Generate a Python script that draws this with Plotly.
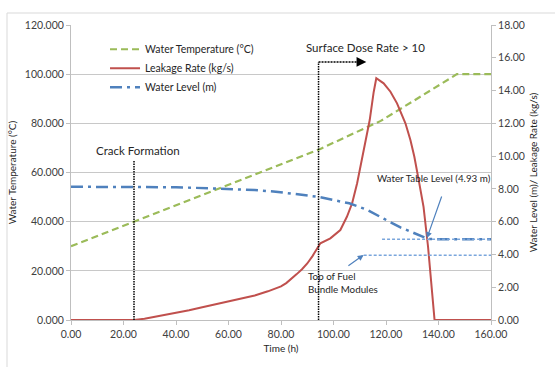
import plotly.graph_objects as go

# Water temperature (left axis, °C)
temp_t = [0, 24, 60, 95, 105, 118, 130, 140, 147, 160]
temp_v = [30, 40, 55, 69.6, 74.6, 81, 88.8, 95.3, 100, 100]

# Leakage rate (right axis, kg/s)
leak_t = [0, 24, 28, 32, 36, 40, 45, 50, 55, 60, 65, 70, 75, 78, 80, 82, 84, 86, 88, 90, 92, 94.3,
          95, 98.8, 102.6, 105.1, 107.1, 109, 110.2, 111.5, 112.1, 113.8, 115.3, 116.3,
          119.1, 121.7, 124.2, 125.7, 127.4, 129.3, 130.8, 132.5, 134.3, 136, 137.3, 138.5, 160]
leak_v = [0, 0, 0.08, 0.2, 0.3, 0.43, 0.6, 0.78, 0.95, 1.12, 1.3, 1.5, 1.75, 1.93, 2.05, 2.25, 2.5,
          2.8, 3.1, 3.45, 3.9, 4.47,
          4.68, 4.98, 5.49, 6.3, 7.12, 8.34, 9.35, 10.37, 10.9, 12.2, 13.9, 14.75,
          14.44, 13.93, 13.22, 12.7, 12.0, 10.98, 9.96, 8.5, 6.9, 4.5, 2.2, 0, 0]

# Water level (right axis, m)
lvl_t = [0, 20, 40, 54, 70, 78, 94, 106, 113, 119.5, 125.5, 130, 136, 140, 160]
lvl_v = [8.13, 8.13, 8.1, 8.03, 7.93, 7.83, 7.52, 7.12, 6.71, 6.15, 5.65, 5.35, 4.95, 4.93, 4.93]

x_ticks = [0, 20, 40, 60, 80, 100, 120, 140, 160]
water_table_level = 4.93
fuel_top_level = 3.95
crack_time = 24
dose_time = 94.3

FONT = "Lato"
TXT = "#404040"
DARK = "#262626"

fig = go.Figure()
fig.add_trace(go.Scatter(x=temp_t, y=temp_v, mode="lines", name="Water Temperature (°C)",
                         line=dict(color="#9bbb59", width=2.2, dash="7px,4px")))
fig.add_trace(go.Scatter(x=leak_t, y=leak_v, mode="lines", name="Leakage Rate (kg/s)", yaxis="y2",
                         line=dict(color="#c0504d", width=2)))
fig.add_trace(go.Scatter(x=lvl_t, y=lvl_v, mode="lines", name="Water Level (m)", yaxis="y2",
                         line=dict(color="#4f81bd", width=2.5, dash="12px,5px,3px,5px")))


def px_x(p):
    return (p - 71) / 420


def px_y(p):
    return (320 - p) / 295


shapes = [
    # outer chart border
    dict(type="rect", xref="paper", yref="paper", x0=px_x(7), x1=px_x(600),
         y0=-0.5, y1=px_y(13), line=dict(color="#d9d9d9", width=1), layer="below"),
    # legend background block (hides gridline)
    dict(type="rect", xref="paper", yref="paper", x0=px_x(88), x1=px_x(288),
         y0=px_y(96), y1=px_y(38), line=dict(width=0), fillcolor="white", layer="below"),
    dict(type="line", xref="x", yref="y", x0=crack_time, x1=crack_time, y0=0, y1=65,
         line=dict(color="black", width=1.5, dash="1.5px,1px")),
    dict(type="line", xref="x", yref="y", x0=dose_time, x1=dose_time, y0=0, y1=105,
         line=dict(color="black", width=1.5, dash="1.5px,1px")),
    dict(type="line", xref="x", yref="y", x0=dose_time, x1=110.5, y0=105, y1=105,
         line=dict(color="black", width=1.5, dash="2px,1px")),
    dict(type="line", xref="x", yref="y2", x0=118.5, x1=160, y0=water_table_level, y1=water_table_level,
         line=dict(color="#7aa6dc", width=1.5, dash="3px,2px")),
    dict(type="line", xref="x", yref="y2", x0=111.5, x1=160, y0=fuel_top_level, y1=fuel_top_level,
         line=dict(color="#7aa6dc", width=1.5, dash="3px,2px")),
]

annotations = [
    dict(x=112.5, y=105, xref="x", yref="y", ax=110, ay=105, axref="x", ayref="y",
         text="", showarrow=True, arrowhead=2, arrowsize=1.3, arrowwidth=1.5, arrowcolor="black"),
    dict(x=25.5, y=68.8, xref="x", yref="y", text="Crack Formation", showarrow=False,
         font=dict(family=FONT, size=11.5, color=DARK), yanchor="middle"),
    dict(x=112, y=110.7, xref="x", yref="y", text="Surface Dose Rate > 10", showarrow=False,
         font=dict(family=FONT, size=11.5, color=DARK), yanchor="middle"),
    dict(x=135.6, y=5.0, xref="x", yref="y2", ax=141.4, ay=7.63, axref="x", ayref="y2",
         text="", showarrow=True, arrowhead=2, arrowsize=1, arrowwidth=1.2, arrowcolor="#4f81bd"),
    dict(x=111.5, y=3.97, xref="x", yref="y2", ax=105.1, ay=3.25, axref="x", ayref="y2",
         text="", showarrow=True, arrowhead=2, arrowsize=1, arrowwidth=1.2, arrowcolor="#4f81bd"),
    dict(x=160, y=8.66, xref="x", yref="y2", text="Water Table Level (4.93 m)", showarrow=False,
         xanchor="right", yanchor="middle", xshift=2, font=dict(family=FONT, size=9.8, color=DARK)),
    dict(x=90.8, y=3.2, xref="x", yref="y2", text="Top of Fuel<br>Bundle Modules", showarrow=False,
         xanchor="left", yanchor="top", align="left", xshift=-3,
         font=dict(family=FONT, size=9.8, color=DARK)),
]

fig.update_layout(
    width=555, height=367,
    margin=dict(l=71, r=64, t=25, b=47),
    paper_bgcolor="white", plot_bgcolor="white",
    font=dict(family=FONT, size=10, color=TXT),
    showlegend=True,
    legend=dict(x=0.081, y=0.967, xanchor="left", yanchor="top", bgcolor="rgba(0,0,0,0)",
                font=dict(family=FONT, size=10.5, color=DARK), itemwidth=30,
                tracegroupgap=0, traceorder="normal"),
    xaxis=dict(range=[0, 160], tickvals=x_ticks, tickformat=".2f", showgrid=False,
               showline=True, linecolor="#bfbfbf", ticks="outside", ticklen=4, tickcolor="#bfbfbf",
               tickfont=dict(size=10.5),
               title=dict(text="Time (h)", font=dict(family=FONT, size=10, color=DARK), standoff=6),
               zeroline=False),
    yaxis=dict(range=[0, 120], dtick=20, tickformat=".3f", showgrid=True, gridcolor="#c8c8c8",
               showline=True, linecolor="#bfbfbf", ticks="outside", ticklen=4, tickcolor="#bfbfbf",
               tickfont=dict(size=10.5),
               title=dict(text="Water Temperature (°C)", font=dict(family=FONT, size=10, color=DARK),
                          standoff=6),
               zeroline=False),
    yaxis2=dict(range=[0, 18], dtick=2, tickformat=".2f", overlaying="y", side="right", showgrid=False,
                showline=True, linecolor="#bfbfbf", ticks="outside", ticklen=4, tickcolor="#bfbfbf",
                tickfont=dict(size=10.5),
                title=dict(text="Water Level (m)/ Leakage Rate (kg/s)",
                           font=dict(family=FONT, size=10, color=DARK), standoff=6),
                zeroline=False),
    shapes=shapes,
    annotations=annotations,
)

fig.write_html("out.html")
